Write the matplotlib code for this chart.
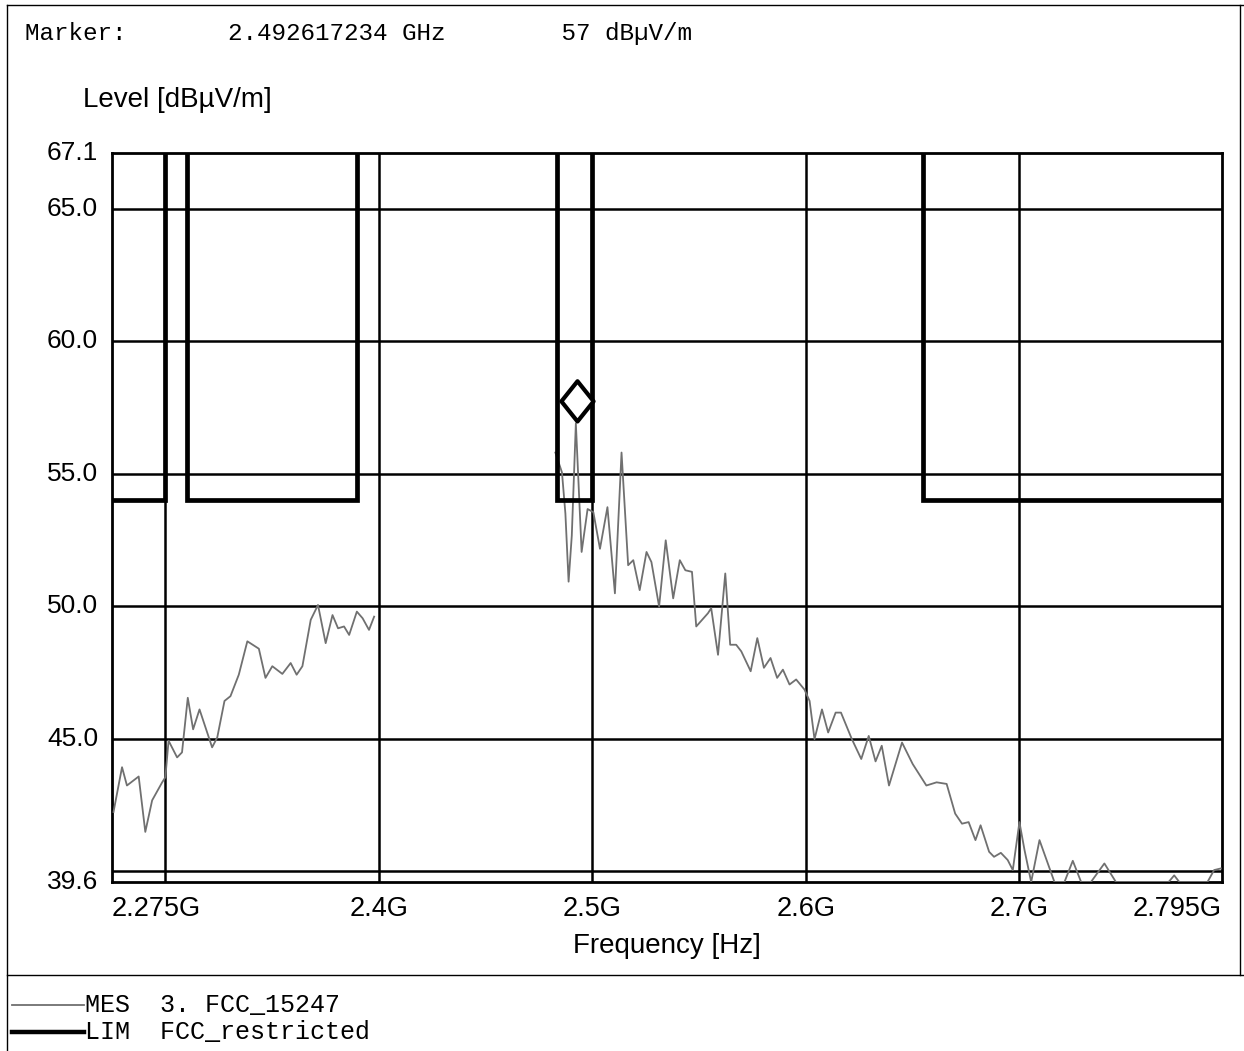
import numpy as np
import matplotlib
matplotlib.use("Agg")
import matplotlib.pyplot as plt
from matplotlib.lines import Line2D
from matplotlib.path import Path

# measured trace, part 1 (GHz, dBuV/m)
mes1_freq = [2.2757, 2.2797, 2.2820, 2.2875, 2.2906, 2.2938, 2.2985, 2.3000, 2.3015, 2.3055,
             2.3078, 2.3105, 2.3130, 2.3160, 2.3219, 2.3243, 2.3277, 2.3305, 2.3344, 2.3384,
             2.3438, 2.3469, 2.3501, 2.3548, 2.3587, 2.3615, 2.3642, 2.3681, 2.3715, 2.3751,
             2.3783, 2.3809, 2.3837, 2.3861, 2.3897, 2.3924, 2.3954, 2.3978]
mes1_level = [42.24, 43.93, 43.24, 43.58, 41.49, 42.68, 43.36, 43.55, 44.93, 44.30,
              44.49, 46.55, 45.36, 46.11, 44.68, 45.05, 46.43, 46.61, 47.42, 48.68,
              48.40, 47.30, 47.74, 47.45, 47.86, 47.42, 47.74, 49.49, 50.05, 48.61,
              49.67, 49.17, 49.24, 48.92, 49.80, 49.55, 49.11, 49.61]

# measured trace, part 2
mes2_freq = [2.4827, 2.4858, 2.4874, 2.4889, 2.4904, 2.4923, 2.4950, 2.4978, 2.5005, 2.5036,
             2.5071, 2.5106, 2.5137, 2.5168, 2.5192, 2.5222, 2.5254, 2.5277, 2.5313, 2.5344,
             2.5379, 2.5410, 2.5436, 2.5467, 2.5487, 2.5542, 2.5557, 2.5589, 2.5623, 2.5646,
             2.5674, 2.5698, 2.5742, 2.5773, 2.5804, 2.5835, 2.5866, 2.5893, 2.5924, 2.5955,
             2.5994, 2.6018, 2.6041, 2.6076, 2.6105, 2.6140, 2.6165, 2.6216, 2.6260, 2.6295,
             2.6327, 2.6356, 2.6390, 2.6451, 2.6501, 2.6565, 2.6613, 2.6660, 2.6700, 2.6732,
             2.6763, 2.6795, 2.6819, 2.6859, 2.6882, 2.6914, 2.6946, 2.6970, 2.7001, 2.7025,
             2.7056, 2.7095, 2.7165, 2.7212, 2.7251, 2.7290, 2.7336, 2.7399, 2.7453, 2.7700,
             2.7726, 2.7750, 2.7882, 2.7913, 2.7944]
mes2_level = [55.80, 55.05, 53.50, 50.93, 52.67, 56.90, 52.05, 53.67, 53.55, 52.17,
              53.74, 50.49, 55.80, 51.55, 51.74, 50.61, 52.05, 51.67, 49.99, 52.49,
              50.30, 51.74, 51.36, 51.30, 49.24, 49.74, 49.93, 48.17, 51.24, 48.55,
              48.55, 48.30, 47.55, 48.80, 47.68, 48.05, 47.30, 47.61, 47.05, 47.24,
              46.86, 46.43, 44.99, 46.11, 45.24, 45.99, 45.99, 44.99, 44.24, 45.11,
              44.15, 44.74, 43.24, 44.86, 44.05, 43.24, 43.36, 43.30, 42.18, 41.80,
              41.86, 41.18, 41.74, 40.74, 40.55, 40.70, 40.43, 40.05, 41.86, 40.80,
              39.60, 41.18, 39.60, 39.60, 40.40, 39.60, 39.60, 40.30, 39.60, 39.60,
              39.85, 39.60, 39.60, 40.05, 40.11]

# limit line FCC restricted bands (outside bands the limit is off-scale)
lim_freq = [2.275, 2.300, 2.300, 2.310, 2.310, 2.390, 2.390, 2.4835, 2.4835, 2.500,
            2.500, 2.655, 2.655, 2.795]
lim_level = [54, 54, 74, 74, 54, 54, 74, 74, 54, 54, 74, 74, 54, 54]

marker_freq = 2.492617234
marker_level = 57

ytick_vals = [39.6, 45.0, 50.0, 55.0, 60.0, 65.0, 67.1]
xtick_vals = [2.275, 2.4, 2.5, 2.6, 2.7, 2.795]
xtick_labels = ["2.275G", "2.4G", "2.5G", "2.6G", "2.7G", "2.795G"]

W, H = 1244, 1051
fig = plt.figure(figsize=(W / 100, H / 100), dpi=100)
fig.patch.set_facecolor("white")

ax = fig.add_axes([112 / W, 1 - 882 / H, 1110 / W, 729 / H])
ax.set_xlim(2.275, 2.795)
ax.set_ylim(39.6, 67.1)

# grid
for gy in [40, 45, 50, 55, 60, 65]:
    ax.axhline(gy, color="black", lw=1.8, zorder=1)
for gx in [2.3, 2.4, 2.5, 2.6, 2.7]:
    ax.axvline(gx, color="black", lw=1.8, zorder=1)

ax.plot(mes1_freq, mes1_level, color="#707070", lw=1.3, zorder=3)
ax.plot(mes2_freq, mes2_level, color="#707070", lw=1.3, zorder=3)
ax.plot(lim_freq, lim_level, color="black", lw=3.4, zorder=4, solid_joinstyle="miter")

diamond = Path([(0, 0), (0.8, 1), (0, 2), (-0.8, 1), (0, 0)],
               [Path.MOVETO, Path.LINETO, Path.LINETO, Path.LINETO, Path.CLOSEPOLY])
ax.plot([marker_freq], [marker_level], marker=diamond, ms=58, mfc="white",
        mec="black", mew=3, zorder=5, ls="none")

for s in ax.spines.values():
    s.set_linewidth(2)

ax.set_yticks(ytick_vals)
ax.set_yticklabels([f"{v:.1f}" for v in ytick_vals], fontsize=19, family="Liberation Sans")
ax.set_xticks(xtick_vals)
ax.set_xticklabels(xtick_labels, fontsize=19.5, family="Liberation Sans")
ax.tick_params(length=0, pad=10)
xl = ax.get_xticklabels()
xl[0].set_ha("left")
xl[-1].set_ha("right")
for lab in ax.get_yticklabels():
    lab.set_va("center")

mono = "Liberation Mono"
fig.text(25 / W, 1 - 33 / H, "Marker:       2.492617234 GHz        57 dBµV/m",
         family=mono, fontsize=17.5, va="center", ha="left")
fig.text(83 / W, 1 - 100 / H, "Level [dBµV/m]", family="Liberation Sans",
         fontsize=20, va="center", ha="left")
fig.text(667 / W, 1 - 946 / H, "Frequency [Hz]", family="Liberation Sans",
         fontsize=20, va="center", ha="center")

# frame and separator
fig.add_artist(Line2D([7 / W, 1.0], [1 - 5 / H, 1 - 5 / H], color="black", lw=1))
fig.add_artist(Line2D([7 / W, 7 / W], [0, 1 - 5 / H], color="black", lw=1))
fig.add_artist(Line2D([1240 / W, 1240 / W], [1 - 975 / H, 1 - 5 / H], color="black", lw=1))
fig.add_artist(Line2D([7 / W, 1.0], [1 - 975 / H, 1 - 975 / H], color="black", lw=1))

# legend
fig.add_artist(Line2D([12 / W, 84 / W], [1 - 1005 / H, 1 - 1005 / H], color="#707070", lw=1.3))
fig.add_artist(Line2D([12 / W, 84 / W], [1 - 1032 / H, 1 - 1032 / H], color="black", lw=3.2))
fig.text(85 / W, 1 - 1005 / H, "MES  3. FCC_15247", family=mono, fontsize=18, va="center")
fig.text(85 / W, 1 - 1032 / H, "LIM  FCC_restricted", family=mono, fontsize=18, va="center")

fig.savefig("out.png", dpi=100)
